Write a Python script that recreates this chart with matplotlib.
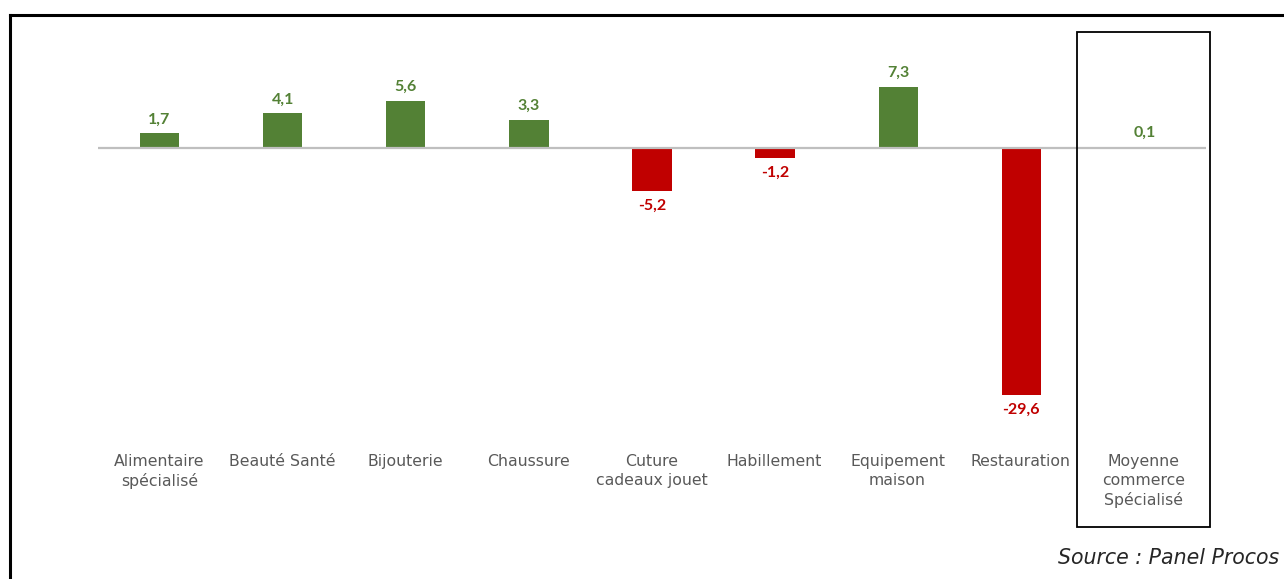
import matplotlib
matplotlib.use("Agg")
import matplotlib.pyplot as plt
from matplotlib.patches import Rectangle
from matplotlib.lines import Line2D

categories = [
    "Alimentaire\nspécialisé", "Beauté Santé", "Bijouterie", "Chaussure",
    "Cuture\ncadeaux jouet", "Habillement", "Equipement\nmaison",
    "Restauration", "Moyenne\ncommerce\nSpécialisé",
]
values = [1.7, 4.1, 5.6, 3.3, -5.2, -1.2, 7.3, -29.6, 0.1]
value_labels = ["1,7", "4,1", "5,6", "3,3", "-5,2", "-1,2", "7,3", "-29,6", "0,1"]

GREEN = "#538135"
RED = "#C00000"
GRAY_TXT = "#595959"

W, H = 1284, 579
fig = plt.figure(figsize=(W / 100, H / 100), dpi=100)
fig.patch.set_facecolor("white")

# axes box in pixels: x 98..1206, y 40..440 (from top)
px_unit = 8.35
zero_y = 147.5
ax_top, ax_bot = 40, 440
ax = fig.add_axes([98 / W, 1 - ax_bot / H, (1206 - 98) / W, (ax_bot - ax_top) / H])
ax.set_xlim(-0.5, len(categories) - 0.5)
ax.set_ylim(-(ax_bot - zero_y) / px_unit, (zero_y - ax_top) / px_unit)
ax.axis("off")

x = list(range(len(categories)))
colors = [GREEN if v >= 0 else RED for v in values]
ax.bar(x, values, width=0.32, color=colors, zorder=2)
ax.axhline(0, color="#BFBFBF", lw=1.6, zorder=3)

for xi, v, lab, c in zip(x, values, value_labels, colors):
    off = 5 if v >= 0 else -6
    ax.annotate(lab, (xi, v), xytext=(0, off), textcoords="offset points",
                ha="center", va="bottom" if v >= 0 else "top",
                color=c, fontsize=11.5, fontweight="bold", family="Lato")

# category labels below the plot
for xi, cat in zip(x, categories):
    fig.text((98 + 123 * (xi + 0.5)) / W, 1 - 454 / H, cat, ha="center", va="top",
             color=GRAY_TXT, fontsize=11.3, family="DejaVu Sans", linespacing=1.3)

# highlight box around the average column
fig.add_artist(Rectangle((1077 / W, 1 - 527 / H), (1210 - 1077) / W, (527 - 32) / H,
                         transform=fig.transFigure, fill=False, ec="black", lw=1.3))

# outer frame (left and top edges)
fig.add_artist(Line2D([10 / W, 10 / W], [0, 1 - 15 / H], transform=fig.transFigure,
                      color="black", lw=2.2))
fig.add_artist(Line2D([10 / W, 1], [1 - 15 / H, 1 - 15 / H], transform=fig.transFigure,
                      color="black", lw=2.2))

fig.text(1279 / W, 1 - 558 / H, "Source : Panel Procos", ha="right", va="center",
         fontsize=14.8, style="italic", color="#262626", family="DejaVu Sans")

fig.savefig("out.png", dpi=100)
